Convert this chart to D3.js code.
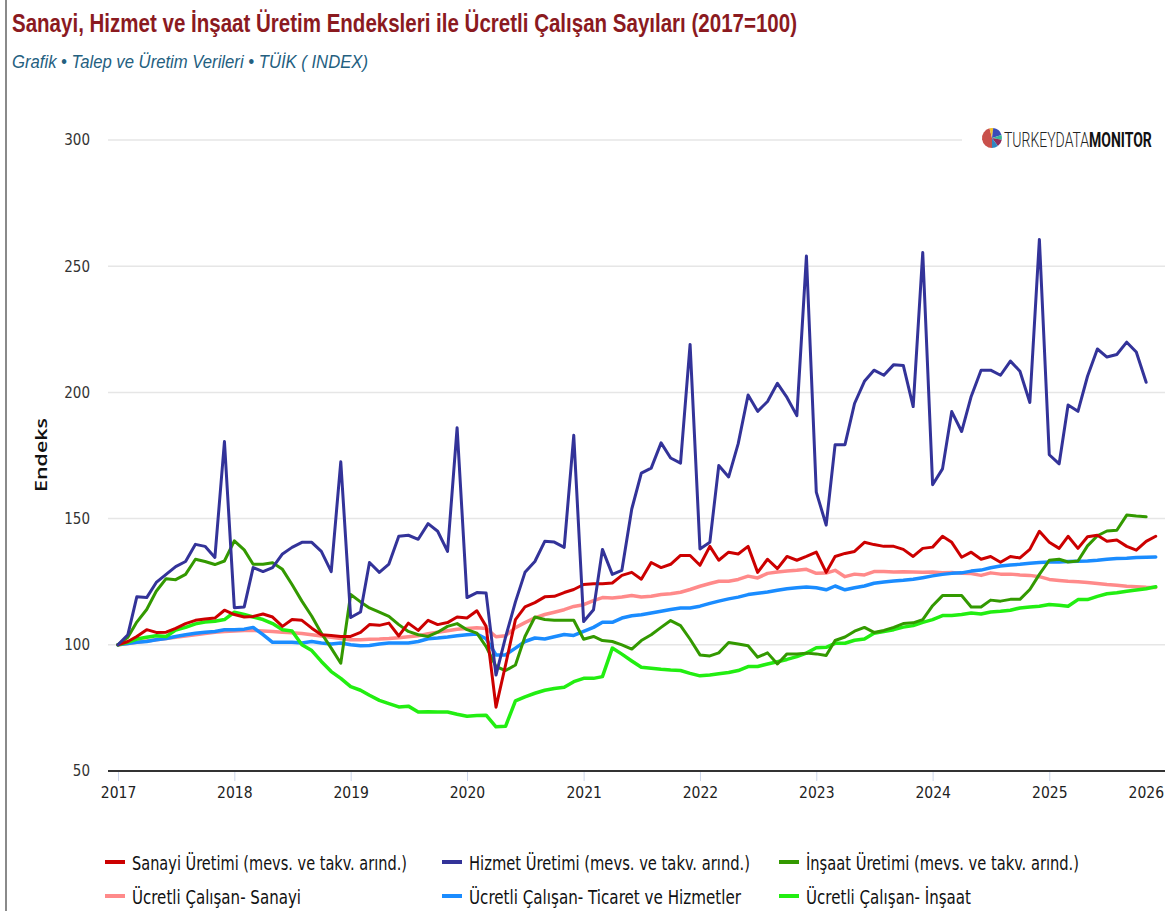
<!DOCTYPE html>
<html>
<head>
<meta charset="utf-8">
<script src="https://cdn.jsdelivr.net/npm/d3@7"></script>
<style>
  html, body { margin: 0; padding: 0; background: #fff; }
  svg { display: block; }
</style>
</head>
<body>
<svg id="chart" width="1165" height="911"></svg>
<script>
// ---------------- DATA (monthly, starting Jan 2017) ----------------
const startMonth = "2017-01";
const yTicks = [50, 100, 150, 200, 250, 300];
const xTickYears = [2017, 2018, 2019, 2020, 2021, 2022, 2023, 2024, 2025, 2026];

const sanayiUretimi = [
  100, 101.3, 103.3, 106, 104.9, 105, 106.5, 108.4, 109.7, 110.2, 110.6, 113.7,
  112, 111, 111.2, 112.2, 111, 107.3, 110, 109.7, 106.6, 104, 103.7, 103.3,
  103.3, 104.9, 108, 107.7, 108.6, 103.5, 108.6, 105.7, 109.7, 108, 108.8, 111,
  110.6, 113.5, 107.3, 75.3, 92, 110, 115, 116.7, 119, 119.2, 120.7, 121.9,
  123.9, 124.2, 124.2, 124.5, 127.5, 128.7, 126, 132.6, 130.6, 131.9, 135.4, 135.4,
  131.5, 139, 133.5, 136.7, 136, 139, 128.7, 133.9, 130.2, 135, 133.5, 135,
  136.7, 128.7, 135, 136.2, 137, 140.6, 139.7, 139, 139, 137.8, 135, 138.2,
  138.7, 143, 140.6, 134.7, 136.7, 133.9, 135, 132.7, 135, 134.4, 137.8, 145,
  140.6, 138.2, 143, 138.2, 142.8, 143.4, 141, 141.5, 139, 137.5, 141, 143
];
const hizmetUretimi = [
  100, 104, 119, 118.7, 124.7, 127.9, 131, 133, 139.8, 139, 134.6, 180.5,
  114.7, 115, 130.6, 129, 130.6, 136, 138.6, 140.6, 140.6, 137, 129, 172.5,
  110.8, 113, 132.6, 128.7, 132, 143, 143.4, 141.8, 148, 145, 137, 186,
  118.7, 120.7, 120.5, 88, 103, 117, 128.7, 133, 141, 140.7, 138.6, 183,
  109.2, 113.9, 137.8, 127.9, 129.5, 153.8, 168, 170, 180, 174, 172, 219,
  138, 140.6, 171, 166.5, 179.7, 199, 192.5, 196.4, 203.6, 198, 190.8, 254,
  160.5, 147.4, 179.3, 179.3, 195.6, 204.4, 208.8, 206.8, 211, 210.7, 194.4, 255.4,
  163.4, 169.7, 192.4, 184.5, 198.4, 208.8, 208.8, 206.8, 212.4, 208.4, 196, 260.6,
  175.3, 171.7, 195, 192.5, 206.4, 217.2, 214, 215, 219.9, 216, 204
];
const insaatUretimi = [
  100, 103, 109, 114, 121.2, 126.2, 125.8, 127.9, 133.9, 133, 131.8, 133.2,
  141.2, 137.6, 131.9, 131.9, 132.5, 129.9, 123.9, 117.3, 111.3, 104.6, 98.7, 92.7,
  119.9, 117, 114.6, 112.9, 111.3, 108, 105.3, 104, 103.3, 105, 107.3, 108.4,
  106, 104.6, 99.3, 91.4, 89.8, 92, 103.3, 111, 110, 109.7, 109.7, 109.7,
  102.2, 103.3, 101.7, 101.3, 100, 98.3, 101.7, 104, 106.9, 109.6, 107.6, 102.2,
  96, 95.6, 96.8, 100.9, 100.3, 99.6, 95.1, 96.8, 92.4, 96.4, 96.4, 96.7,
  96.4, 95.8, 101.7, 103.1, 105.4, 106.9, 104.9, 105.7, 106.9, 108.4, 108.7, 110,
  115.5, 119.5, 119.5, 119.5, 115, 115, 117.7, 117.3, 118, 118, 121.9, 127.9,
  133.5, 133.9, 132.8, 133.2, 139.2, 143.2, 145.1, 145.4, 151.4, 151, 150.7
];
const calisanSanayi = [
  100, 100.5, 101, 101.5, 102, 102.5, 103, 103.5, 104, 104.5, 105, 105.3,
  105.5, 105.7, 105.7, 105.5, 105.3, 105, 104.8, 104.5, 104, 103.5, 103, 102.5,
  102, 102, 102.2, 102.3, 102.5, 102.8, 103.2, 103.6, 104.4, 105, 105.6, 106.2,
  106.5, 106.8, 106.5, 103.2, 103.6, 106.8, 108.8, 110.7, 112, 112.9, 113.9, 115.2,
  115.9, 117.5, 118.7, 118.5, 118.9, 119.5, 118.9, 119.2, 119.9, 120.2, 120.8, 121.9,
  123.2, 124.3, 125.2, 125.2, 125.9, 127.2, 126.5, 128.3, 128.8, 129.2, 129.5, 129.9,
  128.3, 128.4, 129.5, 127, 128, 127.7, 129, 129, 128.8, 128.9, 128.8, 128.7,
  128.8, 128.5, 128.6, 128.3, 128.2, 127.5, 128.5, 128, 128, 127.7, 127.5, 127,
  125.9, 125.5, 125.2, 125, 124.7, 124.3, 123.9, 123.6, 123.2, 123, 122.8, 122.7
];
const calisanTicaretHizmet = [
  100, 100.5, 101, 101.3, 102, 102.5, 103.3, 104, 104.6, 105, 105.3, 106,
  106, 106.2, 106.9, 104, 101, 101, 101, 100.7, 101.3, 100.7, 100.3, 100.7,
  100, 99.6, 99.7, 100.3, 100.7, 100.7, 100.7, 101.3, 102.4, 102.7, 103.1, 103.6,
  104, 104.3, 102.4, 96, 96, 98.7, 101.3, 102.7, 102.3, 103.2, 104.1, 103.7,
  105.3, 106.9, 108.9, 108.9, 110.6, 111.5, 111.9, 112.6, 113.3, 114, 114.6, 114.6,
  115.3, 116.4, 117.3, 118.2, 118.9, 119.9, 120.4, 120.9, 121.6, 122.2, 122.6, 122.9,
  122.6, 121.8, 123.3, 121.8, 122.6, 123.3, 124.4, 124.9, 125.3, 125.6, 126, 126.6,
  127.3, 127.9, 128.3, 128.5, 129.2, 129.6, 130.5, 131.2, 131.6, 131.9, 132.3, 132.6,
  132.8, 132.8, 133, 133.1, 133.2, 133.5, 133.9, 134.2, 134.3, 134.6, 134.7, 134.8
];
const calisanInsaat = [
  100, 101, 102.3, 103, 103.6, 103.3, 105.8, 106.9, 108.3, 109, 109.3, 110,
  112.9, 112, 111, 110, 108.4, 106, 105.5, 100, 97.7, 93.4, 89.4, 86.7,
  83.4, 82, 80, 78, 76.7, 75.4, 75.7, 73.4, 73.5, 73.4, 73.4, 72.5,
  71.7, 72, 72.1, 67.5, 67.7, 77.8, 79.4, 80.8, 82, 82.7, 83.2, 85.4,
  86.7, 86.7, 87.4, 98.7, 96.3, 93.6, 91.1, 90.7, 90.3, 90, 89.8, 88.7,
  87.7, 88, 88.5, 89, 89.8, 91.4, 91.4, 92.4, 93.3, 94.2, 95.3, 96.7,
  98.8, 99, 100.6, 100.6, 101.8, 102.3, 104.6, 105.3, 106, 107, 107.6, 108.9,
  110, 111.6, 111.6, 112, 112.6, 112.2, 113, 113.3, 113.7, 114.6, 115, 115.3,
  116, 115.7, 115.3, 117.9, 117.9, 119.2, 120.2, 120.6, 121.2, 121.7, 122.2, 123
];

const seriesNames = [
  "Sanayi Üretimi (mevs. ve takv. arınd.)",
  "Hizmet Üretimi (mevs. ve takv. arınd.)",
  "İnşaat Üretimi (mevs. ve takv. arınd.)",
  "Ücretli Çalışan- Sanayi",
  "Ücretli Çalışan- Ticaret ve Hizmetler",
  "Ücretli Çalışan- İnşaat"
];
const seriesValues = [sanayiUretimi, hizmetUretimi, insaatUretimi, calisanSanayi, calisanTicaretHizmet, calisanInsaat];
const seriesColors = ["#cc0000", "#333399", "#339900", "#ff8a8a", "#1a8cff", "#22ee11"];
// drawing order (back to front)
const drawOrder = [3, 4, 5, 2, 0, 1];

// ---------------- CHART ----------------
const svg = d3.select("#chart");
const W = 1165, H = 911;
const plotLeft = 108, plotRight = 1165;

const parseMonth = d3.timeParse("%Y-%m");
const t0 = parseMonth(startMonth);
const dateAt = i => d3.timeMonth.offset(t0, i);

const x = d3.scaleTime()
  .domain([new Date(2017, 0, 1), new Date(2026, 0, 1)])
  .range([118, 1165.6]);
const y = d3.scaleLinear().domain([50, 300]).range([771, 140]);

// left border
svg.append("line").attr("x1", 6).attr("x2", 6).attr("y1", 0).attr("y2", H)
  .attr("stroke", "#8a8a8a").attr("stroke-width", 2);

// title & subtitle
svg.append("text")
  .attr("x", 12).attr("y", 32)
  .attr("font-family", "Liberation Sans, Arial, sans-serif")
  .attr("font-weight", "bold").attr("font-size", 26)
  .attr("fill", "#8b1a1f")
  .attr("textLength", 785).attr("lengthAdjust", "spacingAndGlyphs")
  .text("Sanayi, Hizmet ve İnşaat Üretim Endeksleri ile Ücretli Çalışan Sayıları (2017=100)");
svg.append("text")
  .attr("x", 12).attr("y", 68)
  .attr("font-family", "Liberation Sans, Arial, sans-serif")
  .attr("font-style", "italic").attr("font-size", 19)
  .attr("fill", "#24607f")
  .attr("textLength", 356).attr("lengthAdjust", "spacingAndGlyphs")
  .text("Grafik • Talep ve Üretim Verileri • TÜİK ( INDEX)");

// gridlines
svg.append("g")
  .selectAll("line")
  .data(yTicks.filter(v => v !== 50))
  .join("line")
  .attr("x1", plotLeft).attr("x2", plotRight)
  .attr("y1", d => y(d)).attr("y2", d => y(d))
  .attr("stroke", "#e6e6e6").attr("stroke-width", 1.5);

// y axis labels
const yAxis = d3.axisLeft(y).tickValues(yTicks).tickSize(0).tickPadding(0);
const gy = svg.append("g").attr("transform", "translate(90,0)").call(yAxis);
gy.select(".domain").remove();
gy.selectAll("text")
  .attr("font-family", "DejaVu Sans Condensed, DejaVu Sans, sans-serif")
  .attr("font-stretch", "condensed")
  .attr("font-size", 15).attr("fill", "#333");

// y axis title
svg.append("text")
  .attr("transform", "translate(47,455) rotate(-90)")
  .attr("text-anchor", "middle")
  .attr("font-family", "Open Sans, DejaVu Sans, sans-serif")
  .attr("font-weight", 600).attr("font-size", 17).attr("fill", "#111")
  .attr("textLength", 74).attr("lengthAdjust", "spacingAndGlyphs")
  .text("Endeks");

// x axis
const xAxis = d3.axisBottom(x)
  .tickValues(xTickYears.map(yr => new Date(yr, 0, 1)))
  .tickFormat(d3.timeFormat("%Y"))
  .tickSize(10).tickPadding(6);
const gx = svg.append("g").attr("transform", "translate(0,771)").call(xAxis);
gx.select(".domain").remove();
gx.selectAll(".tick line").attr("stroke", "#ccd6eb").attr("stroke-width", 1);
gx.selectAll("text")
  .attr("font-family", "DejaVu Sans Condensed, DejaVu Sans, sans-serif")
  .attr("font-stretch", "condensed")
  .attr("font-size", 15.5).attr("fill", "#222");
gx.selectAll(".tick").filter(d => d.getFullYear() === 2026).select("text")
  .attr("text-anchor", "end").attr("dx", -2);
svg.append("line")
  .attr("x1", plotLeft).attr("x2", plotRight)
  .attr("y1", 771).attr("y2", 771)
  .attr("stroke", "#333").attr("stroke-width", 2);

// logo (white box hides the gridline behind it)
const logo = svg.append("g");
logo.append("rect").attr("x", 962).attr("y", 122).attr("width", 203).attr("height", 36).attr("fill", "#fff");
const pieData = [
  {v: 46, c: "#c9504b"},
  {v: 6, c: "#f2c230"},
  {v: 18, c: "#3b4cb8"},
  {v: 8, c: "#38b79a"},
  {v: 12, c: "#8e2c5c"},
  {v: 10, c: "#2e86c1"}
];
const pie = d3.pie().value(d => d.v).sort(null).startAngle(-Math.PI).endAngle(Math.PI);
const arc = d3.arc().innerRadius(0).outerRadius(10);
logo.append("g").attr("transform", "translate(992,138)")
  .selectAll("path").data(pie(pieData)).join("path")
  .attr("d", arc).attr("fill", d => d.data.c);
// logo text: drawn at natural width, then squeezed horizontally with a transform
const logoG = logo.append("g");
const logoText = logoG.append("text").attr("x", 0).attr("y", 0)
  .attr("font-family", "Roboto, Liberation Sans, sans-serif")
  .attr("font-size", 21).attr("fill", "#222");
logoText.append("tspan").attr("font-weight", 300).text("TURKEYDATA");
logoText.append("tspan").attr("font-weight", "bold").attr("fill", "#111").text("MONITOR");
const natW = logoText.node().getComputedTextLength() || 200;
logoG.attr("transform", `translate(1004,147) scale(${148 / natW},1)`);

// series lines
const line = d3.line()
  .x((d, i) => x(dateAt(i)))
  .y(d => y(d));
const gLines = svg.append("g");
drawOrder.forEach(k => {
  gLines.append("path")
    .datum(seriesValues[k])
    .attr("fill", "none")
    .attr("stroke", seriesColors[k])
    .attr("stroke-width", k >= 3 ? 3.5 : 3)
    .attr("stroke-linejoin", "round")
    .attr("stroke-linecap", "round")
    .attr("d", line);
});

// legend
const legendCols = [105, 442, 779];
const legendRows = [870, 904];
const legendWidths = [275, 281, 273, 169, 272, 165];
const gLeg = svg.append("g");
seriesNames.forEach((name, k) => {
  const col = k % 3, row = Math.floor(k / 3);
  const lx = legendCols[col], ly = legendRows[row];
  gLeg.append("line")
    .attr("x1", lx).attr("x2", lx + 20)
    .attr("y1", ly - 8).attr("y2", ly - 8)
    .attr("stroke", seriesColors[k]).attr("stroke-width", 4);
  gLeg.append("text")
    .attr("x", lx + 27).attr("y", ly)
    .attr("font-family", "DejaVu Sans Condensed, DejaVu Sans, sans-serif")
    .attr("font-stretch", "condensed")
    .attr("font-size", 19).attr("fill", "#111")
    .attr("textLength", legendWidths[k]).attr("lengthAdjust", "spacingAndGlyphs")
    .text(name);
});
</script>
</body>
</html>
